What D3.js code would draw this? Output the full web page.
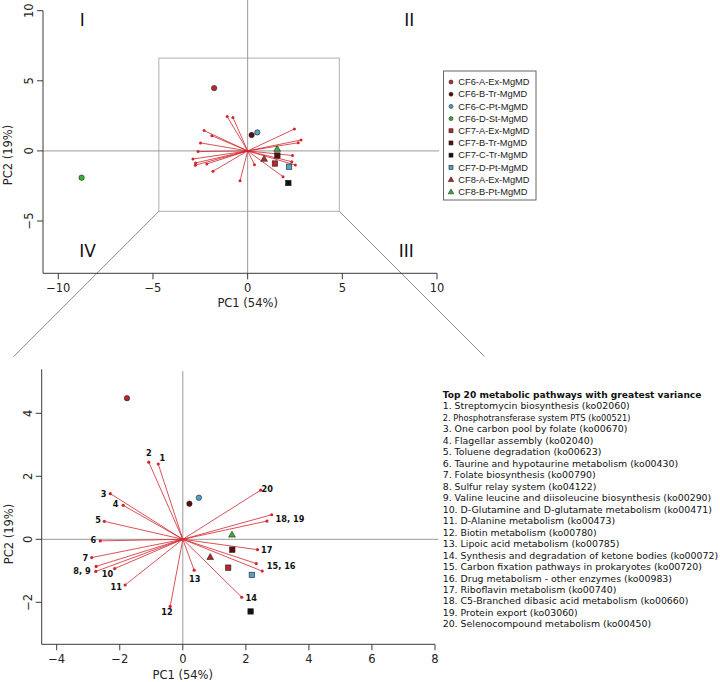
<!DOCTYPE html>
<html><head><meta charset="utf-8">
<script src="https://cdn.jsdelivr.net/npm/d3@7"></script>
<style>body{margin:0;background:#fff}svg{display:block}</style>
</head><body>
<svg id="chart" width="720" height="682"></svg>
<script>
// ---------- data ----------
const pathwayIds = d3.range(1, 21);
const loadPC1 = [-0.78, -1.08, -2.30, -1.89, -2.49, -2.62, -2.89, -2.75, -2.76, -2.16, -1.83, -0.40, 0.36, 1.87, 2.33, 2.52, 2.37, 2.82, 2.67, 2.47];
const loadPC2 = [2.39, 2.45, 1.45, 1.08, 0.57, -0.05, -0.58, -0.86, -1.02, -0.93, -1.45, -2.13, -0.98, -1.84, -0.77, -1.01, -0.33, 0.78, 0.58, 1.56];

const labelTexts = ["1", "2", "3", "4", "5", "6", "7", "8, 9", "10", "11", "12", "13", "14", "15, 16", "17", "18, 19", "20"];
const labelPC1 = [-0.65, -1.08, -2.51, -2.13, -2.69, -2.84, -3.09, -3.20, -2.39, -2.11, -0.50, 0.38, 2.17, 3.12, 2.66, 3.40, 2.68];
const labelPC2 = [2.59, 2.73, 1.44, 1.12, 0.61, -0.04, -0.60, -1.01, -1.09, -1.51, -2.31, -1.26, -1.87, -0.85, -0.33, 0.65, 1.60];

const sampleNames = ["CF6-A-Ex-MgMD", "CF6-B-Tr-MgMD", "CF6-C-Pt-MgMD", "CF6-D-St-MgMD", "CF7-A-Ex-MgMD", "CF7-B-Tr-MgMD", "CF7-C-Tr-MgMD", "CF7-D-Pt-MgMD", "CF8-A-Ex-MgMD", "CF8-B-Pt-MgMD"];
const samplePC1 = [-1.77, 0.21, 0.51, -8.77, 1.44, 1.57, 2.15, 2.19, 0.87, 1.56];
const samplePC2 = [4.48, 1.13, 1.32, -1.91, -0.90, -0.33, -2.29, -1.13, -0.56, 0.15];
const sampleShapes = ["circle", "circle", "circle", "circle", "square", "square", "square", "square", "triangle", "triangle"];
const sampleColors = ["#b8262b", "#5a0c12", "#4ea3c9", "#35b535", "#b8262b", "#5a0c12", "#111111", "#4ea3c9", "#b8262b", "#35b535"];

const pathwayNames = [
  "1. Streptomycin biosynthesis (ko02060)",
  "2. Phosphotransferase system PTS (ko00521)",
  "3. One carbon pool by folate (ko00670)",
  "4. Flagellar assembly (ko02040)",
  "5. Toluene degradation (ko00623)",
  "6. Taurine and hypotaurine metabolism (ko00430)",
  "7. Folate biosynthesis (ko00790)",
  "8. Sulfur relay system (ko04122)",
  "9. Valine leucine and diisoleucine biosynthesis (ko00290)",
  "10. D-Glutamine and D-glutamate metabolism (ko00471)",
  "11. D-Alanine metabolism (ko00473)",
  "12. Biotin metabolism (ko00780)",
  "13. Lipoic acid metabolism (ko00785)",
  "14. Synthesis and degradation of ketone bodies (ko00072)",
  "15. Carbon fixation pathways in prokaryotes (ko00720)",
  "16. Drug metabolism - other enzymes (ko00983)",
  "17. Riboflavin metabolism (ko00740)",
  "18. C5-Branched dibasic acid metabolism (ko00660)",
  "19. Protein export (ko03060)",
  "20. Selenocompound metabolism (ko00450)"
];
const listTitle = "Top 20 metabolic pathways with greatest variance";

const topTicksX = [-10, -5, 0, 5, 10];
const topTicksY = [-5, 0, 5, 10];
const botTicksX = [-4, -2, 0, 2, 4, 6, 8];
const botTicksY = [-2, 0, 2, 4];
const quadrantLabels = ["I", "II", "III", "IV"];
const quadrantPC1 = [-8.74, 8.54, 8.38, -8.45];
const quadrantPC2 = [9.36, 9.36, -7.14, -7.14];
const zoomBoxPC1 = [-4.69, 4.84];
const zoomBoxPC2 = [-4.31, 6.62];
const xTitle = "PC1 (54%)", yTitle = "PC2 (19%)";

// ---------- drawing ----------
const svg = d3.select("#chart");
const AX = "#3a3a3a", GRID = "#9a9a9a", RED = "#d0262d";
const FONT = "DejaVu Sans";
const fmt = d => d < 0 ? "\u2212" + Math.abs(d) : String(d);

function marker(g, shape, x, y, fill, s) {
  if (shape === "circle") {
    g.append("circle").attr("cx", x).attr("cy", y).attr("r", s).attr("fill", fill).attr("stroke", "#222").attr("stroke-width", 0.6);
  } else if (shape === "square") {
    g.append("rect").attr("x", x - s).attr("y", y - s).attr("width", 2 * s).attr("height", 2 * s).attr("fill", fill).attr("stroke", "#222").attr("stroke-width", 0.6);
  } else {
    const h = s * 1.25;
    g.append("path").attr("d", `M${x},${y - h}L${x + h},${y + h * 0.75}L${x - h},${y + h * 0.75}Z`).attr("fill", fill).attr("stroke", "#222").attr("stroke-width", 0.6);
  }
}

function panel(cfg) {
  const g = svg.append("g");
  const x = cfg.x, y = cfg.y;
  const [l, r] = cfg.xr, [t, b] = cfg.yr;
  g.append("line").attr("x1", x(0)).attr("x2", x(0)).attr("y1", cfg.vTop).attr("y2", b).attr("stroke", GRID).attr("stroke-width", 1);
  g.append("line").attr("x1", l).attr("x2", cfg.hRight).attr("y1", y(0)).attr("y2", y(0)).attr("stroke", GRID).attr("stroke-width", 1);
  g.append("path").attr("d", `M${l},${t}V${b}H${r}`).attr("fill", "none").attr("stroke", AX).attr("stroke-width", 1);
  cfg.tx.forEach(v => {
    g.append("line").attr("x1", x(v)).attr("x2", x(v)).attr("y1", b).attr("y2", b + 6).attr("stroke", AX);
    g.append("text").attr("x", x(v)).attr("y", b + 19).attr("text-anchor", "middle").attr("font-family", FONT).attr("font-size", 11.5).attr("fill", "#222").text(fmt(v));
  });
  cfg.ty.forEach(v => {
    g.append("line").attr("x1", l - 6).attr("x2", l).attr("y1", y(v)).attr("y2", y(v)).attr("stroke", AX);
    g.append("text").attr("transform", `translate(${l - 14},${y(v)}) rotate(-90)`).attr("text-anchor", "middle").attr("dy", "0.35em").attr("font-family", FONT).attr("font-size", 11.5).attr("fill", "#222").text(fmt(v));
  });
  g.append("text").attr("x", x(0)).attr("y", cfg.xTitleY).attr("text-anchor", "middle").attr("font-family", FONT).attr("font-size", 11.5).attr("fill", "#222").text(xTitle);
  g.append("text").attr("transform", `translate(${cfg.yTitleX},${cfg.yTitleY}) rotate(-90)`).attr("text-anchor", "middle").attr("dy", "0.35em").attr("font-family", FONT).attr("font-size", 11.5).attr("fill", "#222").text(yTitle);
  pathwayIds.forEach((id, i) => {
    g.append("line").attr("x1", x(0)).attr("y1", y(0)).attr("x2", x(loadPC1[i])).attr("y2", y(loadPC2[i])).attr("stroke", RED).attr("stroke-width", 0.8);
  });
  pathwayIds.forEach((id, i) => {
    g.append("circle").attr("cx", x(loadPC1[i])).attr("cy", y(loadPC2[i])).attr("r", cfg.tipR).attr("fill", RED);
  });
  sampleNames.forEach((n, i) => {
    if (cfg.clip && (samplePC1[i] < cfg.clip[0])) return;
    marker(g, sampleShapes[i], x(samplePC1[i]), y(samplePC2[i]), sampleColors[i], cfg.ms);
  });
  return g;
}

// top panel
const xT = d3.scaleLinear().domain([-10, 10]).range([58.3, 437]);
const yT = d3.scaleLinear().domain([-5, 10]).range([221, 10.7]);
const zb = svg.append("g");
const bx0 = xT(zoomBoxPC1[0]), bx1 = xT(zoomBoxPC1[1]), by0 = yT(zoomBoxPC2[1]), by1 = yT(zoomBoxPC2[0]);
zb.append("rect").attr("x", bx0).attr("y", by0).attr("width", bx1 - bx0).attr("height", by1 - by0).attr("fill", "none").attr("stroke", "#b0b0b0").attr("stroke-width", 1);
const connY = 356.5;
zb.append("line").attr("x1", bx0).attr("y1", by1).attr("x2", bx0 - (connY - by1)).attr("y2", connY).attr("stroke", "#8a8a8a").attr("stroke-width", 1);
zb.append("line").attr("x1", bx1).attr("y1", by1).attr("x2", bx1 + (connY - by1)).attr("y2", connY).attr("stroke", "#8a8a8a").attr("stroke-width", 1);

const gTop = panel({x: xT, y: yT, xr: [43, 437], yr: [10.7, 273.3], vTop: 0, hRight: 439, tx: topTicksX, ty: topTicksY,
  xTitleY: 307, yTitleX: 8, yTitleY: 155, tipR: 1.5, ms: 2.7});
quadrantLabels.forEach((q, i) => {
  gTop.append("text").attr("x", xT(quadrantPC1[i])).attr("y", yT(quadrantPC2[i])).attr("dy", "0.35em").attr("text-anchor", "middle")
    .attr("font-family", FONT).attr("font-size", 17).attr("fill", "#111").text(q);
});

// legend
const lg = svg.append("g");
lg.append("rect").attr("x", 443.5).attr("y", 71).attr("width", 92.5).attr("height", 129).attr("fill", "#fff").attr("stroke", "#666").attr("stroke-width", 1);
sampleNames.forEach((n, i) => {
  const yy = 82 + i * 12.19;
  marker(lg, sampleShapes[i], 451, yy, sampleColors[i], sampleShapes[i] === "triangle" ? 2.2 : 2);
  lg.append("text").attr("x", 458.3).attr("y", yy).attr("dy", "0.35em").attr("font-family", "Liberation Sans").attr("font-size", 9.3).attr("fill", "#222").text(n);
});

// bottom panel
const xB = d3.scaleLinear().domain([-4, 8]).range([56.7, 435]);
const yB = d3.scaleLinear().domain([-2, 4]).range([602.3, 413.3]);
const gBot = panel({x: xB, y: yB, xr: [41.7, 435], yr: [369.3, 644.3], vTop: 371, hRight: 438.3, tx: botTicksX, ty: botTicksY,
  xTitleY: 678.5, yTitleX: 9, yTitleY: 534, tipR: 1.6, ms: 2.7, clip: [-4.4]});
labelTexts.forEach((t, i) => {
  gBot.append("text").attr("x", xB(labelPC1[i])).attr("y", yB(labelPC2[i])).attr("dy", "0.35em").attr("text-anchor", "middle")
    .attr("font-family", FONT).attr("font-weight", "bold").attr("font-size", 8.2).attr("fill", "#111").text(t);
});

// pathway list
const lt = svg.append("g");
lt.append("text").attr("x", 442.7).attr("y", 394.7).attr("dy", "0.35em").attr("font-family", FONT).attr("font-weight", "bold").attr("font-size", 9.1).attr("fill", "#111").text(listTitle);
pathwayNames.forEach((n, i) => {
  lt.append("text").attr("x", 442.7).attr("y", 406.2 + i * 11.47).attr("dy", "0.35em").attr("font-family", FONT)
    .attr("font-size", i === 1 ? 8.25 : 9.4).attr("fill", "#111").text(n);
});
</script>
</body></html>
